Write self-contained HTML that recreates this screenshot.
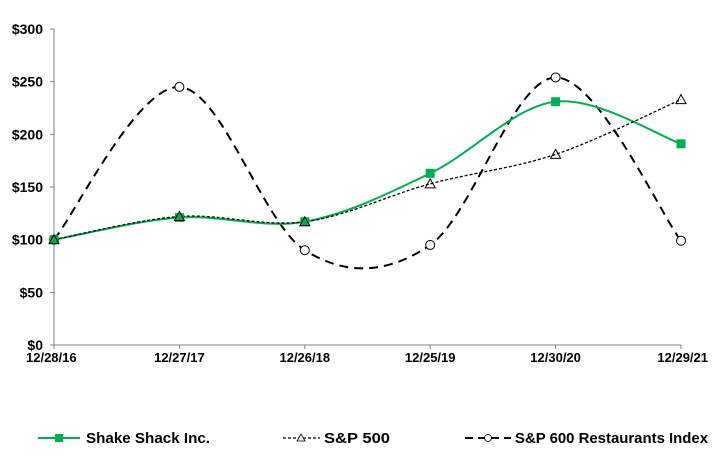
<!DOCTYPE html>
<html><head><meta charset="utf-8"><style>
body{margin:0;background:#fff;}
svg{display:block;font-family:"Liberation Sans",Arial,sans-serif;font-weight:bold;}
</style></head><body>
<svg id="chart" width="715" height="458" viewBox="0 0 715 458">
<g id="axes"></g>
<g id="series"></g>
<g id="legend">
 <g>
  <line x1="38" y1="438" x2="80" y2="438" stroke="#00b050" stroke-width="2"/>
  <rect x="55" y="434" width="8" height="8" fill="#00b050"/>
  <text x="86" y="443" font-size="14.5" textLength="124" lengthAdjust="spacingAndGlyphs" fill="#000">Shake Shack Inc.</text>
 </g>
 <g>
  <line x1="283" y1="438" x2="320" y2="438" stroke="#000" stroke-width="1.3" stroke-dasharray="3,2"/>
  <path d="M297,441 L301,434 L305,441 Z" fill="#fff" stroke="#000" stroke-width="0.8"/>
  <text x="324" y="443" font-size="14.5" textLength="66" lengthAdjust="spacingAndGlyphs" fill="#000">S&amp;P 500</text>
 </g>
 <g>
  <line x1="465" y1="438" x2="511" y2="438" stroke="#000" stroke-width="2" stroke-dasharray="8,5"/>
  <circle cx="488" cy="438" r="3.5" fill="#fff" stroke="#000" stroke-width="0.8"/>
  <text x="515" y="443" font-size="14.5" textLength="193" lengthAdjust="spacingAndGlyphs" fill="#000">S&amp;P 600 Restaurants Index</text>
 </g>
</g>
</svg>
<script>
const categories=["12/28/16","12/27/17","12/26/18","12/25/19","12/30/20","12/29/21"];
const shakeShack=[100,121,117,163,231,191];
const sp500=[100,122,117,153,181,233];
const restaurants=[100,245,90,95,254,99];
const yTicks=[0,50,100,150,200,250,300];
const yTickLabels=["$0","$50","$100","$150","$200","$250","$300"];

const NS="http://www.w3.org/2000/svg";
const x0=54,x1=681,yTop=29,yBot=345;
function xs(i){return x0+(x1-x0)*i/(categories.length-1);}
function ys(v){return yBot-(yBot-yTop)*v/300;}
function mk(tag,attrs,parent){const e=document.createElementNS(NS,tag);for(const k in attrs)e.setAttribute(k,attrs[k]);parent.appendChild(e);return e;}
const axes=document.getElementById('axes');
const ser=document.getElementById('series');
let a=mk('line',{x1:x0,y1:yTop,x2:x0,y2:yBot,stroke:'#808080','stroke-width':1},axes);


a=mk('line',{x1:x0,y1:yBot,x2:x1,y2:yBot,stroke:'#808080','stroke-width':1},axes);


yTicks.forEach((v,i)=>{
 mk('line',{x1:x0-4,y1:ys(v),x2:x0,y2:ys(v),stroke:'#808080'},axes);
 const t=mk('text',{x:x0-11,y:ys(v)+5,'text-anchor':'end','font-size':14},axes);
 t.textContent=yTickLabels[i];
 
 
});
categories.forEach((c,i)=>{
 mk('line',{x1:xs(i),y1:yBot,x2:xs(i),y2:yBot+4,stroke:'#808080'},axes);
 let anchor=i==0?'start':(i==categories.length-1?'end':'middle');
 let xx=i==0?xs(i)-28:(i==categories.length-1?xs(i)+27:xs(i));
 const t=mk('text',{x:xx,y:yBot+17,'text-anchor':anchor,'font-size':13},axes);
 t.textContent=c;
 
 
});
function smooth(vals){
 const p=vals.map((v,i)=>[xs(i),ys(v)]);
 let d=`M${p[0][0]},${p[0][1]}`;
 for(let i=0;i<p.length-1;i++){
  const p0=p[Math.max(i-1,0)],p1=p[i],p2=p[i+1],p3=p[Math.min(i+2,p.length-1)];
  const c1=[p1[0]+(p2[0]-p0[0])/6,p1[1]+(p2[1]-p0[1])/6];
  const c2=[p2[0]-(p3[0]-p1[0])/6,p2[1]-(p3[1]-p1[1])/6];
  d+=` C${c1[0]},${c1[1]} ${c2[0]},${c2[1]} ${p2[0]},${p2[1]}`;
 }
 return d;
}
let l=mk('path',{d:smooth(restaurants),fill:'none',stroke:'#000','stroke-width':2,'stroke-dasharray':'9,6'},ser);


l=mk('path',{d:smooth(shakeShack),fill:'none',stroke:'#00b050','stroke-width':2},ser);


l=mk('path',{d:smooth(sp500),fill:'none',stroke:'#000','stroke-width':1.3,'stroke-dasharray':'3,2'},ser);


restaurants.forEach((v,i)=>{
 const m=mk('circle',{cx:xs(i),cy:ys(v),r:4.5,fill:'#fff',stroke:'#000','stroke-width':1},ser);
 
 
});
shakeShack.forEach((v,i)=>{
 const m=mk('rect',{x:xs(i)-4.5,y:ys(v)-4.5,width:9,height:9,fill:'#00b050'},ser);
 
 
});
sp500.forEach((v,i)=>{
 const x=xs(i),y=ys(v);
 const m=mk('path',{d:`M${x-5},${y+4} L${x},${y-5} L${x+5},${y+4} Z`,fill:'none',stroke:'#000','stroke-width':1},ser);
 
 
});
</script>
</body></html>
